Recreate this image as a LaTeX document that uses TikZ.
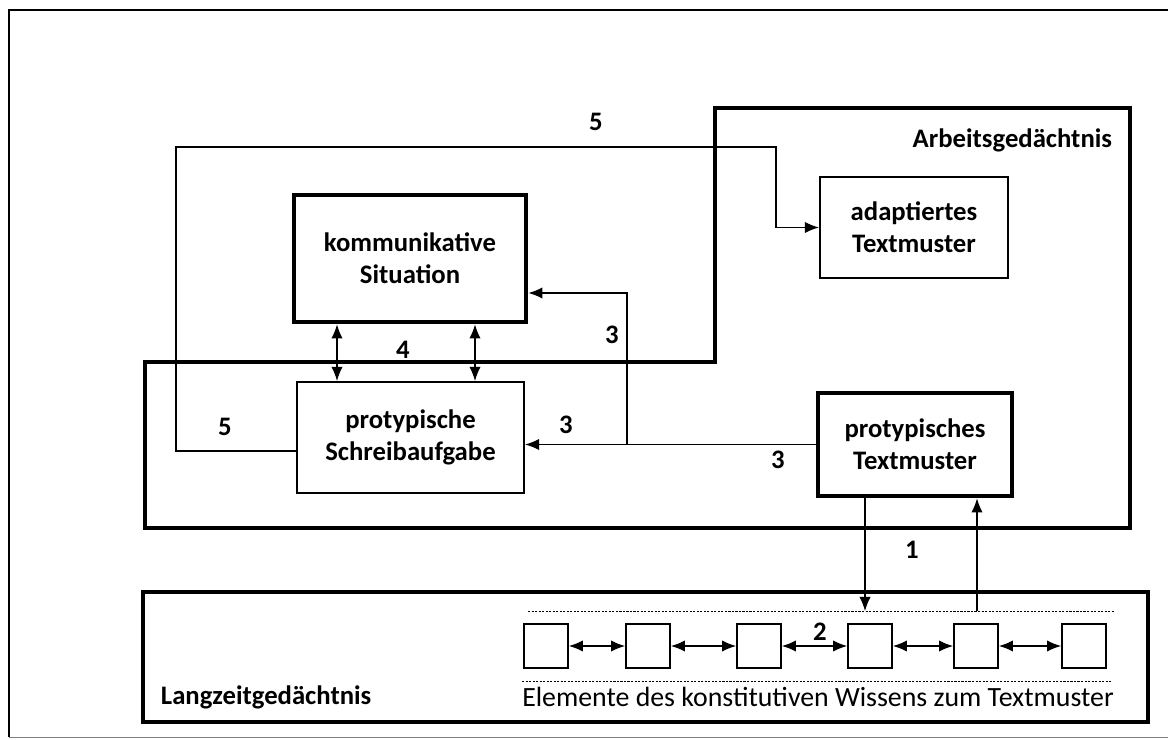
\documentclass[tikz,border=0pt]{standalone}
\usepackage{fontspec}
\setmainfont{Carlito}
\usetikzlibrary{arrows.meta}

\begin{document}
\begin{tikzpicture}[x=0.025cm, y=-0.025cm,
    every node/.style={font=\bfseries\fontsize{19}{23}\selectfont},
    thinbox/.style={draw, line width=1.5pt, align=center},
    thickbox/.style={draw, line width=3.4pt, align=center},
    elem/.style={draw, line width=1.3pt, minimum size=1.1cm, inner sep=0pt},
    conn/.style={line width=0.8pt},
    tip/.style={-{Latex[length=10pt,width=8pt]}},
    both/.style={{Latex[length=10pt,width=8pt]}-{Latex[length=10pt,width=8pt]}}]
  \clip (0,0) rectangle (1168,740);
  \fill[white] (0,0) rectangle (1168,740);

  % outer frame and memory areas
  \draw[line width=1.6pt] (9,737) -- (9,10) -- (1190,10);
  \draw[line width=0.6pt, gray] (9,737) -- (1190,737);
  \draw[line width=2.6pt] (145,362) -- (715,362) -- (715,108) -- (1130,108)
    -- (1130,528) -- (145,528) -- cycle;
  \draw[line width=2.6pt] (143,592) rectangle (1148,722);

  \node[anchor=east] (ag) at (1117,140) {Arbeitsgedächtnis};
  \node[anchor=west] (lzg) at (156,697) {Langzeitgedächtnis};

  % boxes
  \node[thickbox, minimum width=5.8cm, minimum height=3.175cm] (sit) at (410,258.5) {kommunikative\\Situation};
  \node[thinbox, minimum width=5.675cm, minimum height=2.775cm] (aufg) at (410.5,437.5) {protypische\\Schreibaufgabe};
  \node[thinbox, minimum width=4.7cm, minimum height=2.525cm] (adapt) at (914,227.5) {adaptiertes\\Textmuster};
  \node[thickbox, minimum width=4.85cm, minimum height=2.575cm] (proto) at (915,444.5) {protypisches\\Textmuster};

  % elements of the long-term memory
  \coordinate (dta) at (528,611);
  \coordinate (dtb) at (1115,611);
  \coordinate (dba) at (522,681);
  \coordinate (dbb) at (1112,681);
  \draw[dash pattern=on 1.5pt off 1pt, line width=0.5pt] (dta) -- (dtb);
  \draw[dash pattern=on 1.5pt off 1pt, line width=0.5pt] (dba) -- (dbb);
  \foreach \i/\xx in {1/546, 2/648, 3/759, 4/870, 5/976, 6/1084}
    \node[elem] (e\i) at (\xx,646) {};
  \foreach \a/\b in {1/2, 2/3, 3/4, 4/5, 5/6}
    \draw[conn, both] (e\a) -- (e\b);
  \node[font=\fontsize{19.8}{23}\selectfont] (elemtxt) at (818,697) {Elemente des konstitutiven Wissens zum Textmuster};

  % 1
  \draw[conn, tip] (proto.south -| 865,0) -- (865,0 |- dta);
  \draw[conn, tip] (977,0 |- dta) -- (proto.south -| 977,0);
  % 3
  \coordinate (split) at (627,444.5);
  \draw[conn, tip] (proto.west) -- (aufg.east |- proto.west);
  \draw[conn, tip] (split) |- (sit.east |- 0,293);
  % 4
  \draw[conn, both] (sit.south -| 337,0) -- (aufg.north -| 337,0);
  \draw[conn, both] (sit.south -| 475,0) -- (aufg.north -| 475,0);
  % 5
  \draw[conn, tip] (aufg.west |- 0,451) -- (176,451) |- (776,147) |- (adapt.west);

  % labels
  \node (n5a) at (596,122) {5};
  \node (n5b) at (225,427) {5};
  \node (n4) at (403,350) {4};
  \node (n3a) at (612,335) {3};
  \node (n3b) at (566,425) {3};
  \node (n3c) at (778,460) {3};
  \node (n1) at (912,550) {1};
  \node (n2) at (820,632) {2};
\end{tikzpicture}
\end{document}
